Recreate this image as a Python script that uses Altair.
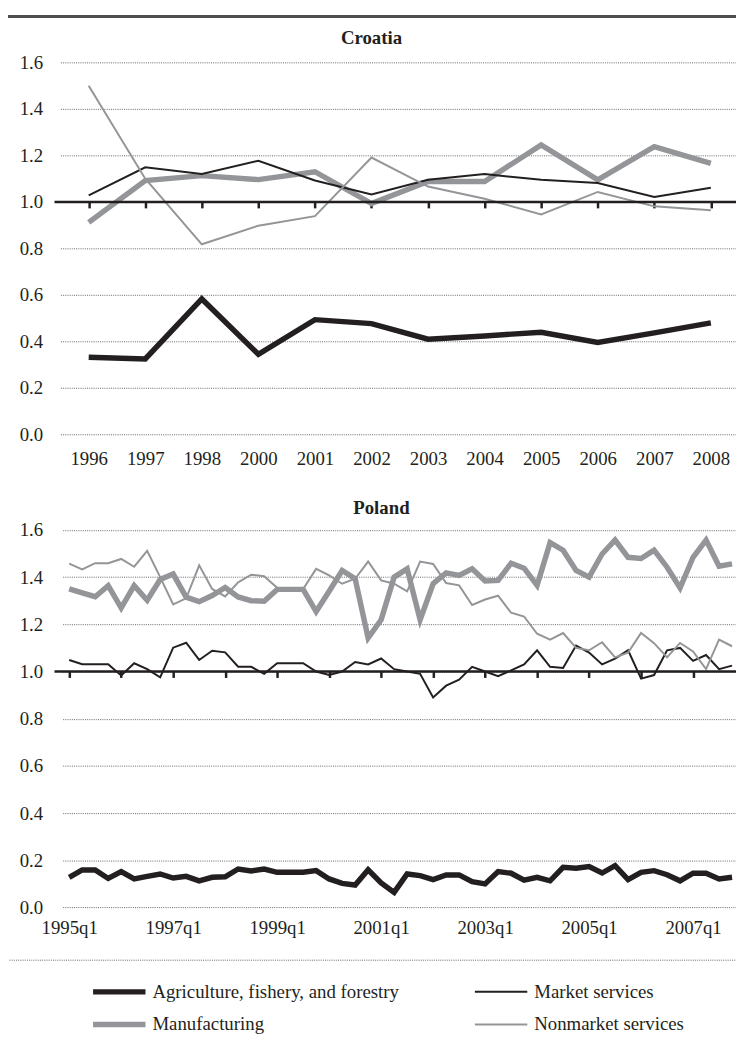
import altair as alt
import pandas as pd

# ---------------- data ----------------
SECTORS = ["Agriculture, fishery, and forestry", "Market services",
           "Manufacturing", "Nonmarket services"]
DRAW_ORDER = ["Agriculture, fishery, and forestry", "Manufacturing",
              "Market services", "Nonmarket services"]
SECTOR_COLORS = ["#231f20", "#231f20", "#939598", "#939598"]
SECTOR_WIDTHS = [5.5, 2, 5.5, 2]

cro_years = ["1996", "1997", "1998", "2000", "2001", "2002",
             "2003", "2004", "2005", "2006", "2007", "2008"]
cro_agri = [0.332, 0.325, 0.583, 0.345, 0.494, 0.477, 0.410, 0.424, 0.440, 0.396, 0.437, 0.480]
cro_manuf = [0.912, 1.092, 1.113, 1.096, 1.130, 0.993, 1.088, 1.088, 1.245, 1.095, 1.238, 1.166]
cro_market = [1.028, 1.149, 1.120, 1.177, 1.092, 1.032, 1.095, 1.120, 1.095, 1.081, 1.021, 1.061]
cro_nonmarket = [1.499, 1.100, 0.818, 0.898, 0.939, 1.191, 1.066, 1.014, 0.946, 1.043, 0.981, 0.964]

pol_quarters = [f"{y}q{q}" for y in range(1995, 2008) for q in range(1, 5)]
pol_agri = [0.128, 0.159, 0.159, 0.123, 0.152, 0.121, 0.132, 0.142, 0.125, 0.132, 0.113, 0.128,
            0.130, 0.163, 0.155, 0.163, 0.149, 0.149, 0.149, 0.156, 0.121, 0.102, 0.095, 0.160,
            0.104, 0.064, 0.142, 0.135, 0.118, 0.138, 0.138, 0.109, 0.100, 0.152, 0.145, 0.116,
            0.128, 0.113, 0.170, 0.166, 0.173, 0.146, 0.177, 0.118, 0.149, 0.156, 0.139, 0.113,
            0.145, 0.145, 0.121, 0.128]
pol_manuf = [1.350, 1.333, 1.317, 1.364, 1.270, 1.364, 1.302, 1.390, 1.413, 1.315, 1.296, 1.322,
             1.356, 1.316, 1.300, 1.298, 1.348, 1.348, 1.348, 1.254, 1.340, 1.428, 1.393, 1.142,
             1.219, 1.400, 1.435, 1.219, 1.372, 1.418, 1.407, 1.435, 1.384, 1.386, 1.459, 1.438,
             1.365, 1.546, 1.514, 1.428, 1.400, 1.498, 1.557, 1.484, 1.479, 1.514, 1.442, 1.354,
             1.484, 1.557, 1.446, 1.456]
pol_market = [1.049, 1.031, 1.031, 1.031, 0.983, 1.035, 1.010, 0.975, 1.101, 1.122, 1.049, 1.088,
              1.081, 1.020, 1.020, 0.990, 1.035, 1.035, 1.035, 1.000, 0.985, 1.000, 1.040, 1.030,
              1.055, 1.010, 1.000, 0.990, 0.890, 0.940, 0.965, 1.020, 1.000, 0.980, 1.005, 1.030,
              1.090, 1.020, 1.015, 1.110, 1.080, 1.030, 1.055, 1.090, 0.970, 0.985, 1.090, 1.100,
              1.045, 1.070, 1.010, 1.025]
pol_nonmarket = [1.457, 1.433, 1.459, 1.459, 1.477, 1.444, 1.511, 1.400, 1.284, 1.310, 1.450, 1.350,
                 1.318, 1.378, 1.410, 1.404, 1.355, 1.350, 1.350, 1.435, 1.407, 1.372, 1.393, 1.466,
                 1.386, 1.372, 1.340, 1.466, 1.456, 1.375, 1.365, 1.282, 1.305, 1.321, 1.249, 1.233,
                 1.160, 1.135, 1.163, 1.100, 1.090, 1.124, 1.060, 1.080, 1.163, 1.120, 1.060, 1.121,
                 1.085, 1.010, 1.135, 1.107]

y_ticks = [0.0, 0.2, 0.4, 0.6, 0.8, 1.0, 1.2, 1.4, 1.6]
ref_level = [1.0]


def long_table(periods, series):
    rows = []
    for name in DRAW_ORDER:
        for p, v in zip(periods, series[name]):
            rows.append({"period": p, "sector": name, "value": v})
    return pd.DataFrame(rows)


cro_df = long_table(cro_years, {
    "Agriculture, fishery, and forestry": cro_agri, "Manufacturing": cro_manuf,
    "Market services": cro_market, "Nonmarket services": cro_nonmarket})
pol_df = long_table(pol_quarters, {
    "Agriculture, fishery, and forestry": pol_agri, "Manufacturing": pol_manuf,
    "Market services": pol_market, "Nonmarket services": pol_nonmarket})
one_row = pd.DataFrame({"ref": ref_level})

# ---------------- layout / styling ----------------
INK = "#231f20"
FONT = "Liberation Serif"
FS = 19
W = 689          # plot width (page x 55 -> 744)
H = 855          # whole plotting column (Croatia top -> Poland bottom)
CRO_RANGE_Y = [376.3, 0]
POL_RANGE_Y = [854.4, 472.7]
CRO_RANGE_X = [6, 6 + 12 * 57.18]
POL_RANGE_X = [8.3, 8.3 + 52 * 13.14]


def y_pos(rng, v):
    return rng[0] + (rng[1] - rng[0]) * v / 1.6


def panel_layers(df, cats, xr, yr, tick_vals, label_vals, label_pad, title, title_x,
                 title_base, legend):
    xscale = alt.Scale(domain=cats, range=xr, paddingInner=0, paddingOuter=0)
    yscale = alt.Scale(domain=[0, 1.6], range=yr, nice=False, zero=False)
    yaxis = alt.Axis(values=y_ticks, format=".1f", orient="left", grid=True,
                     gridColor="#555555", gridDash=[1, 1.2], gridWidth=0.9, domain=False,
                     ticks=False, tickSize=0, labelPadding=12, labelFont=FONT,
                     labelFontSize=FS, labelColor=INK, title=None)
    axis_y = yr[0]
    lines = alt.Chart(df).mark_line(strokeJoin="miter", strokeMiterLimit=8).encode(
        x=alt.X("period:N", scale=xscale,
                axis=alt.Axis(values=label_vals, orient="bottom", offset=axis_y - H,
                              ticks=False, tickSize=0, domain=False, grid=False, labelAngle=0,
                              labelPadding=label_pad, labelFont=FONT, labelFontSize=FS,
                              labelColor=INK, bandPosition=0.5, labelOverlap=False,
                              title=title, titleFont=FONT, titleFontSize=FS,
                              titleFontWeight="bold", titleColor=INK, titleX=title_x,
                              titleY=title_base - axis_y, titleBaseline="alphabetic",
                              titleAlign="center", titleAnchor="middle")),
        y=alt.Y("value:Q", scale=yscale, axis=yaxis),
        color=alt.Color("sector:N", scale=alt.Scale(domain=SECTORS, range=SECTOR_COLORS),
                        legend=legend),
        strokeWidth=alt.StrokeWidth("sector:N",
                                    scale=alt.Scale(type="ordinal", domain=SECTORS,
                                                    range=SECTOR_WIDTHS),
                                    legend=legend),
        detail="sector:N",
    )
    ref_y = y_pos(yr, 1.0)
    tick_axis = alt.Chart(df).mark_point(opacity=0).encode(
        x=alt.X("period:N", scale=xscale,
                axis=alt.Axis(values=tick_vals, orient="bottom", offset=ref_y - H,
                              labels=False, ticks=True, tickSize=6, tickWidth=2.5,
                              tickColor=INK, domain=False, grid=False, bandPosition=0,
                              title=None)),
        y=alt.Y("value:Q", scale=yscale, axis=None),
    )
    ref = alt.Chart(one_row).mark_rule(color=INK, strokeWidth=2.5).encode(
        y=alt.Y("ref:Q", scale=yscale, axis=None))
    return [lines, tick_axis, ref]


legend = alt.Legend(orient="none", legendX=36, legendY=929.7, columns=2, direction="horizontal",
                    symbolType="stroke", symbolSize=53 * 53, clipHeight=20, labelFont=FONT,
                    labelFontSize=FS, labelColor=INK, labelOffset=4, labelLimit=500,
                    rowPadding=13, columnPadding=73, title=None, padding=0)

cro_layers = panel_layers(cro_df, cro_years, CRO_RANGE_X, CRO_RANGE_Y, cro_years, cro_years,
                          15, "Croatia", 320, -19.3, None)
pol_layers = panel_layers(pol_df, pol_quarters, POL_RANGE_X, POL_RANGE_Y, pol_quarters[::4],
                          pol_quarters[::8], 11, "Poland", 330, 455.7, legend)

top_rule = alt.Chart(one_row).mark_rule(color="#4d4d4d", strokeWidth=3).encode(
    x=alt.value(-47), x2=alt.value(W), y=alt.value(-46.3))
bottom_rule = alt.Chart(one_row).mark_rule(
    color="#555555", strokeWidth=0.9, strokeDash=[1, 1.2]).encode(
    x=alt.value(-45.5), x2=alt.value(W), y=alt.value(907.7))

chart = alt.layer(*cro_layers, *pol_layers, top_rule, bottom_rule).resolve_scale(
    x="independent", y="independent", color="independent", strokeWidth="independent"
).resolve_axis(x="independent", y="independent").properties(
    width=W, height=H,
    autosize=alt.AutoSizeParams(type="none"),
    padding={"left": 47, "top": 49.3, "right": 0, "bottom": 126},
).configure_view(stroke=None)

chart.save("out.html", embed_options={"renderer": "svg", "actions": False})
